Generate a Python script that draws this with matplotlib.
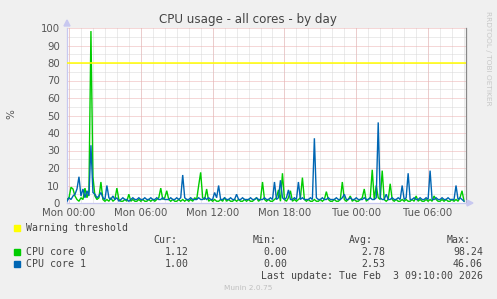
import matplotlib
matplotlib.use("Agg")
import matplotlib.pyplot as plt
import matplotlib.patches as mpatches
import pandas as pd

# ---------------- data ----------------
title = "CPU usage - all cores - by day"
series_names = ["CPU core 0", "CPU core 1"]
series_colors = ["#00cc00", "#0066b3"]
warning_level = 80
start_time = "2026-02-01 23:50"
sample_step = "10min"

core0 = [
    2, 3, 9, 8, 4, 2, 1, 3, 2, 8.5, 3, 7, 98.24, 15, 4, 2, 3, 12, 2, 1,
    2, 1, 3, 1, 2, 8.5, 2, 1, 1, 2, 1, 5, 1, 2, 1, 1, 2, 1, 2, 1,
    1, 2, 1, 2, 1, 2, 3, 8.5, 2, 3, 7, 2, 1, 2, 1, 1, 2, 1, 2, 1,
    2, 1, 2, 1, 3, 2, 10, 17.5, 3, 2, 8, 1, 2, 1, 2, 1, 1, 2, 1, 3,
    1, 2, 1, 1, 2, 1, 2, 1, 1, 2, 1, 2, 1, 1, 2, 3, 1, 2, 12, 2,
    1, 2, 1, 1, 2, 3, 7.5, 1, 17, 2, 1, 3, 7, 1, 2, 1, 2, 3, 14.5, 2,
    1, 2, 1, 1, 2, 1, 1, 2, 1, 2, 6.5, 2, 1, 1, 2, 1, 1, 2, 12, 2,
    1, 2, 4, 1, 2, 1, 1, 2, 3, 8, 1, 2, 3, 19, 2, 10, 3, 2, 18.5, 2,
    1, 2, 11, 2, 1, 2, 1, 1, 2, 1, 2, 1, 1, 2, 1, 4, 1, 2, 1, 1,
    2, 1, 2, 1, 4, 2, 1, 1, 2, 1, 2, 1, 1, 2, 1, 2, 1, 3, 7, 1.12,
]
core1 = [
    1, 3, 2, 4, 5, 8, 15, 4, 8, 3, 7, 4, 33, 6, 5, 3, 4, 6, 3, 2,
    10, 3, 2, 4, 2, 3, 1, 2, 3, 2, 2, 1, 2, 3, 2, 2, 3, 2, 2, 3,
    2, 2, 3, 2, 2, 3, 2, 2, 3, 2, 2, 2, 3, 2, 2, 3, 2, 3, 16, 3,
    2, 2, 3, 2, 2, 2, 3, 2, 2, 3, 2, 3, 2, 2, 6, 3, 10, 2, 2, 3,
    2, 2, 3, 2, 2, 5, 2, 2, 3, 2, 2, 2, 3, 2, 2, 3, 2, 2, 2, 3,
    2, 2, 3, 2, 12, 2, 3, 13, 3, 2, 3, 7.5, 2, 2, 3, 2, 12, 2, 3, 2,
    2, 2, 3, 2, 37, 3, 2, 2, 3, 2, 2, 3, 2, 2, 2, 3, 2, 2, 3, 5,
    2, 2, 3, 2, 2, 3, 2, 2, 2, 3, 2, 2, 3, 2, 2, 3, 46.06, 3, 2, 2,
    5, 2, 2, 3, 2, 2, 3, 2, 10, 2, 3, 17, 2, 2, 3, 2, 2, 3, 2, 2,
    3, 2, 18.5, 2, 2, 3, 2, 2, 3, 2, 2, 3, 2, 2, 2, 10, 2, 3, 2, 1.00,
]
cur_vals = ["1.12", "1.00"]
min_vals = ["0.00", "0.00"]
avg_vals = ["2.78", "2.53"]
max_vals = ["98.24", "46.06"]
y_ticks = [0, 10, 20, 30, 40, 50, 60, 70, 80, 90, 100]
last_update = "Last update: Tue Feb  3 09:10:00 2026"

# ---------------- figure ----------------
W, H = 497, 299
fig = plt.figure(figsize=(W / 100, H / 100), dpi=100, facecolor="#f0f0f0")

def fx(px):
    return px / W

def fy(py):
    return 1 - py / H

ax = fig.add_axes([fx(67), fy(203), 399 / W, 175 / H])
ax.set_facecolor("white")

times = pd.date_range(start_time, periods=len(core0), freq=sample_step)
t_start = pd.Timestamp("2026-02-01 23:50")
t_end = pd.Timestamp("2026-02-03 09:10")
ax.set_xlim(t_start, t_end)
ax.set_ylim(0, 100)

minor_col = "#d8d8d8"
major_col = "#ecb0b0"
dash = (0, (1, 1))
gkw = dict(lw=0.72, ls=dash)
# minor grid
for h in pd.date_range("2026-02-02 00:00", t_end, freq="1h"):
    ax.axvline(h, color=minor_col, zorder=1, **gkw)
for v in range(5, 100, 10):
    ax.axhline(v, color=minor_col, zorder=1, **gkw)
# major grid
for h in pd.date_range("2026-02-02 00:00", t_end, freq="6h"):
    ax.axvline(h, color=major_col, zorder=2, **gkw)
for v in range(10, 101, 10):
    ax.axhline(v, color=major_col, zorder=2, **gkw)

ax.plot(times, core0, color=series_colors[0], lw=1.0, zorder=4, solid_joinstyle="miter")
ax.plot(times, core1, color=series_colors[1], lw=1.0, zorder=5, solid_joinstyle="miter")
ax.axhline(warning_level, color="#ffff00", lw=1.1, zorder=6)

ax.spines["top"].set_visible(False)
ax.spines["right"].set_color("#888888")
ax.spines["right"].set_linewidth(0.9)
ax.spines["left"].set_color("#c8c8f0")
ax.spines["bottom"].set_color("#c8c8f0")
ax.spines["left"].set_linewidth(0.9)
ax.spines["bottom"].set_linewidth(0.9)

ax.set_yticks(y_ticks)
ax.set_yticklabels([str(v) for v in y_ticks])
xt = pd.date_range("2026-02-02 00:00", t_end, freq="6h")
ax.set_xticks(xt)
ax.set_xticklabels([t.strftime("%a %H:%M") for t in xt])
ax.tick_params(axis="both", length=0, labelsize=7.3, labelcolor="#555555")
ax.tick_params(axis="y", pad=5)
ax.tick_params(axis="x", pad=3.5)

# axis arrows
fig.patches.append(mpatches.Polygon([[fx(64), fy(26)], [fx(70), fy(26)], [fx(67), fy(20)]],
                                    closed=True, transform=fig.transFigure, color="#c8c8f0"))
fig.patches.append(mpatches.Polygon([[fx(467), fy(200)], [fx(467), fy(206)], [fx(473), fy(203)]],
                                    closed=True, transform=fig.transFigure, color="#c8c8f0"))

# title and side texts
fig.text(fx(248), fy(20), title, ha="center", va="center", fontsize=8.6, color="#444444")
fig.text(fx(11), fy(114), "%", ha="center", va="center", rotation=90, fontsize=7.5, color="#555555")
fig.text(fx(488), fy(58), "RRDTOOL / TOBI OETIKER", ha="center", va="center", rotation=270,
         fontsize=5.3, color="#c8c8c8")
fig.text(fx(248), fy(288), "Munin 2.0.75", ha="center", va="center", fontsize=5.3, color="#c0c0c0")

# legend
mono = "DejaVu Sans Mono"
lfs = 7.1
lc = "#444444"

def square(y, color):
    fig.patches.append(mpatches.Rectangle((fx(14), fy(y + 3)), 6 / W, 6 / H,
                                          transform=fig.transFigure, color=color))

square(228, "#ffff00")
fig.text(fx(26), fy(228), "Warning threshold", family=mono, fontsize=lfs, color=lc, va="center")
hy = 240
fig.text(fx(177), fy(hy), "Cur:", family=mono, fontsize=lfs, color=lc, va="center", ha="right")
fig.text(fx(253), fy(hy), "Min:", family=mono, fontsize=lfs, color=lc, va="center")
fig.text(fx(349), fy(hy), "Avg:", family=mono, fontsize=lfs, color=lc, va="center")
fig.text(fx(447), fy(hy), "Max:", family=mono, fontsize=lfs, color=lc, va="center")
rows_y = [252, 264]
for k in range(2):
    y = rows_y[k]
    square(y, series_colors[k])
    fig.text(fx(26), fy(y), series_names[k], family=mono, fontsize=lfs, color=lc, va="center")
    fig.text(fx(189), fy(y), cur_vals[k], family=mono, fontsize=lfs, color=lc, va="center", ha="right")
    fig.text(fx(287), fy(y), min_vals[k], family=mono, fontsize=lfs, color=lc, va="center", ha="right")
    fig.text(fx(385), fy(y), avg_vals[k], family=mono, fontsize=lfs, color=lc, va="center", ha="right")
    fig.text(fx(483), fy(y), max_vals[k], family=mono, fontsize=lfs, color=lc, va="center", ha="right")
fig.text(fx(483), fy(276), last_update, family=mono, fontsize=lfs, color=lc, va="center", ha="right")

fig.savefig("out.png", dpi=100, facecolor=fig.get_facecolor())
